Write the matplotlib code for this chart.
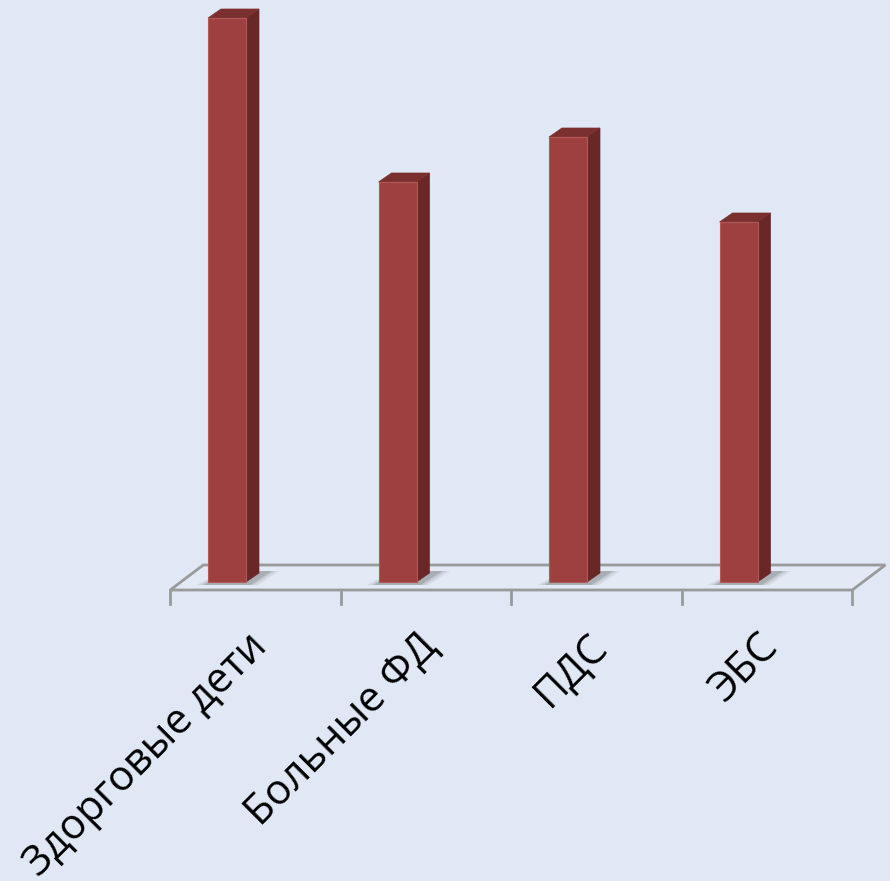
import matplotlib
matplotlib.use('Agg')
import matplotlib.pyplot as plt
from matplotlib.patches import Polygon

# data
categories = ['Здорговые дети', 'Больные ФД', 'ПДС', 'ЭБС']
values = [5.64, 4.00, 4.45, 3.60]

bg = '#E0E8F5'
front_c = '#9E4040'
side_c = '#692727'
top_c = '#7B3030'
grid_c = '#9A9A9A'

fig = plt.figure(figsize=(8.9, 8.81), dpi=100)
fig.patch.set_facecolor(bg)
ax = fig.add_axes([0, 0, 1, 1])
ax.set_facecolor(bg)
ax.set_xlim(-1.4985, 3.7214)
ax.set_ylim(-2.99, 5.82)
ax.axis('off')

# 3d look parameters (data units)
bw = 0.223        # bar front width
shift = -0.167    # bar offset from category centre
ddx, ddy = 0.076, 0.09   # bar depth
fdx, fdy = 0.194, 0.25   # floor depth
f0 = -0.08               # floor front edge

n = len(categories)
# floor
floor = Polygon([(-0.5, f0), (n - 0.5, f0), (n - 0.5 + fdx, f0 + fdy), (-0.5 + fdx, f0 + fdy)],
                closed=True, facecolor='#E3EAF6', edgecolor=grid_c, lw=2, zorder=1)
ax.add_patch(floor)
for k in range(n + 1):
    ax.plot([k - 0.5, k - 0.5], [f0, f0 - 0.14], color=grid_c, lw=2, zorder=1)

for i, v in enumerate(values):
    x0 = i + shift - bw / 2
    x1 = x0 + bw
    # soft shadow
    for a, s in [(0.10, 0.07), (0.15, 0.045), (0.22, 0.025)]:
        ax.add_patch(Polygon([(x0 - s, -0.03), (x1 + s, -0.03), (x1 + ddx + s + 0.05, ddy + 0.02),
                              (x0 + ddx + 0.02, ddy + 0.02)],
                             closed=True, facecolor='#555555', alpha=a, lw=0, zorder=2))
    ax.add_patch(Polygon([(x1, 0), (x1 + ddx, ddy), (x1 + ddx, v + ddy), (x1, v)],
                         closed=True, facecolor=side_c, edgecolor=side_c, lw=0.5, zorder=3))
    ax.add_patch(Polygon([(x0, v), (x1, v), (x1 + ddx, v + ddy), (x0 + ddx, v + ddy)],
                         closed=True, facecolor=top_c, edgecolor=top_c, lw=0.5, zorder=3))
    ax.add_patch(Polygon([(x0, 0), (x1, 0), (x1, v), (x0, v)],
                         closed=True, facecolor=front_c, edgecolor='#B25A5A', lw=0.8, zorder=4))

for i, lab in enumerate(categories):
    ax.text(i + 0.03, -0.58, lab, rotation=45, rotation_mode='anchor',
            ha='right', va='center', fontsize=30, family=['Open Sans', 'DejaVu Sans'])

fig.savefig('out.png', dpi=100, facecolor=bg)
